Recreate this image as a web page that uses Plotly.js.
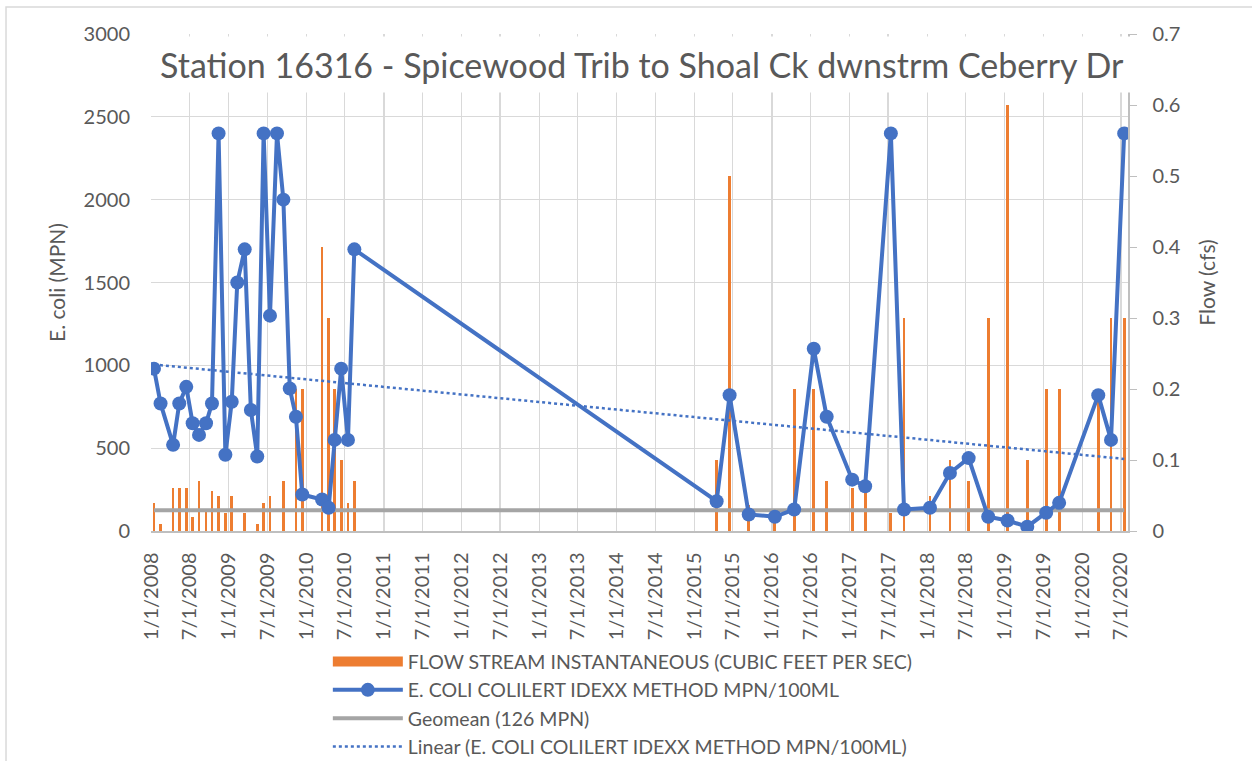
<!DOCTYPE html>
<html>
<head>
<meta charset="utf-8">
<script src="https://cdn.plot.ly/plotly-3.0.1.min.js"></script>
<style>
  html, body { margin: 0; padding: 0; background: #fff; }
  #chart { width: 1252px; height: 761px; }
</style>
</head>
<body>
<div id="chart"></div>
<script>
// sample dates
var sampleDates = [
  '2008-01-15','2008-02-15','2008-04-14','2008-05-13','2008-06-15','2008-07-15','2008-08-14',
  '2008-09-16','2008-10-14','2008-11-14','2008-12-16','2009-01-15','2009-02-10','2009-03-17',
  '2009-04-15','2009-05-15','2009-06-14','2009-07-14','2009-08-16','2009-09-15','2009-10-15',
  '2009-11-13','2009-12-13','2010-03-16','2010-04-16','2010-05-14','2010-06-14','2010-07-16',
  '2010-08-15','2015-04-16','2015-06-16','2015-09-14','2016-01-15','2016-04-15','2016-07-16',
  '2016-09-15','2017-01-13','2017-03-15','2017-07-14','2017-09-14','2018-01-14','2018-04-18',
  '2018-07-15','2018-10-15','2019-01-14','2019-04-17','2019-07-15','2019-09-14','2020-03-16',
  '2020-05-15','2020-07-16'
];

// E. coli, MPN/100mL
var ecoli = [
  980, 770, 520, 770, 870, 650, 580, 650, 770, 2400, 460, 780, 1500, 1700,
  730, 450, 2400, 1300, 2400, 2000, 860, 690, 220, 190, 140, 550, 980, 550,
  1700, 180, 820, 100, 86, 130, 1100, 690, 310, 270, 2400, 130, 140, 350,
  440, 86, 63, 26, 110, 170, 820, 550, 2400
];

// instantaneous flow, cfs (null = not recorded)
var flow = [
  0.04, 0.01, 0.06, 0.06, 0.06, 0.02, 0.07, 0.03, 0.057, 0.05, 0.026, 0.05, null, 0.026,
  null, 0.01, 0.04, 0.05, null, 0.07, null, 0.2, 0.2, 0.4, 0.3, 0.2, 0.1, 0.04,
  0.07, 0.1, 0.5, 0.036, 0.013, 0.2, 0.2, 0.07, 0.06, 0.06, 0.025, 0.3, 0.05, 0.1,
  0.07, 0.3, 0.6, 0.1, 0.2, 0.2, 0.2, 0.3, 0.3
];

var geomeanDates = ['2008-01-15', '2020-07-16'];
var geomeanVals = [126, 126];

// excel linear trendline end points
var trendDates = ['2008-01-15', '2020-07-16'];
var trendVals = [1005, 435];

var txt = '#595959';
var fnt = 'Lato, "Open Sans", sans-serif';
var flowName = 'FLOW STREAM INSTANTANEOUS (CUBIC FEET PER SEC)';

var bars = {
  x: sampleDates,
  y: flow,
  type: 'bar',
  yaxis: 'y',
  width: 13 * 86400000,
  marker: {color: '#ED7D31'},
  name: flowName,
  showlegend: false
};

// legend swatch for the bars (wide orange block like excel)
var barKey = {
  x: [null],
  y: [null],
  type: 'scatter',
  mode: 'lines',
  yaxis: 'y',
  line: {color: '#ED7D31', width: 13},
  name: flowName,
  legendrank: 1
};

var geo = {
  x: geomeanDates,
  y: geomeanVals,
  type: 'scatter',
  mode: 'lines',
  yaxis: 'y2',
  line: {color: '#A5A5A5', width: 4},
  name: 'Geomean (126 MPN)',
  legendrank: 3
};

var eco = {
  x: sampleDates,
  y: ecoli,
  type: 'scatter',
  mode: 'lines+markers',
  yaxis: 'y2',
  line: {color: '#4472C4', width: 4},
  marker: {color: '#4472C4', size: 14},
  name: 'E. COLI COLILERT IDEXX METHOD MPN/100ML',
  legendrank: 2
};

var trend = {
  x: trendDates,
  y: trendVals,
  type: 'scatter',
  mode: 'lines',
  yaxis: 'y2',
  line: {color: '#4472C4', width: 2.5, dash: 'dot'},
  name: 'Linear (E. COLI COLILERT IDEXX METHOD MPN/100ML)',
  legendrank: 4
};

var data = [bars, barKey, geo, eco, trend];

var layout = {
  width: 1252,
  height: 761,
  paper_bgcolor: '#fff',
  plot_bgcolor: '#fff',
  font: {family: fnt, color: txt, size: 20},
  margin: {l: 151, r: 124, t: 34, b: 230, autoexpand: false},
  showlegend: true,
  legend: {
    x: 0.181, xanchor: 'left',
    y: -0.224, yanchor: 'top',
    itemwidth: 70,
    font: {size: 19.5, color: txt},
    tracegroupgap: 0,
    bgcolor: 'rgba(0,0,0,0)'
  },
  xaxis: {
    type: 'date',
    range: ['2008-01-01', '2020-08-03'],
    tick0: '2008-01-01',
    dtick: 'M6',
    tickformat: '%-m/%-d/%Y',
    tickangle: -90,
    ticklabelstandoff: 12,
    showgrid: true,
    gridcolor: '#D9D9D9',
    gridwidth: 1.3,
    showline: true,
    linecolor: '#BFBFBF',
    linewidth: 1.5,
    ticks: '',
    tickfont: {size: 20, color: txt}
  },
  yaxis: {
    side: 'right',
    range: [0, 0.7],
    dtick: 0.1,
    showgrid: false,
    zeroline: false,
    showline: true,
    linecolor: '#BFBFBF',
    linewidth: 1.5,
    ticks: 'outside',
    ticklen: 7,
    tickcolor: '#BFBFBF',
    ticklabelstandoff: 12,
    tickfont: {size: 20, color: txt},
    title: {text: 'Flow (cfs)', font: {size: 21, color: txt}, standoff: 20}
  },
  yaxis2: {
    overlaying: 'y',
    side: 'left',
    range: [0, 3000],
    dtick: 500,
    showgrid: true,
    gridcolor: '#D9D9D9',
    gridwidth: 1.3,
    zeroline: false,
    showline: false,
    ticks: '',
    ticklabelstandoff: 20,
    tickfont: {size: 20, color: txt},
    title: {text: 'E. coli (MPN)', font: {size: 21, color: txt}, standoff: 12}
  },
  bargap: 0,
  annotations: [{
    xref: 'paper', yref: 'paper',
    x: 0.5025, y: 0.9388,
    xanchor: 'center', yanchor: 'middle',
    width: 980, height: 55,
    bgcolor: '#fff',
    borderpad: 0,
    showarrow: false,
    text: 'Station 16316 - Spicewood Trib to Shoal Ck dwnstrm Ceberry Dr',
    font: {family: fnt, size: 34, color: txt}
  }],
  shapes: [{
    type: 'rect', xref: 'paper', yref: 'paper', layer: 'below',
    x0: -0.1484, x1: 1.2, y0: -0.6, y1: 1.0542,
    line: {color: '#D9D9D9', width: 1.5},
    fillcolor: 'rgba(0,0,0,0)'
  }]
};

Plotly.newPlot('chart', data, layout, {displayModeBar: false, staticPlot: true});
</script>
</body>
</html>
